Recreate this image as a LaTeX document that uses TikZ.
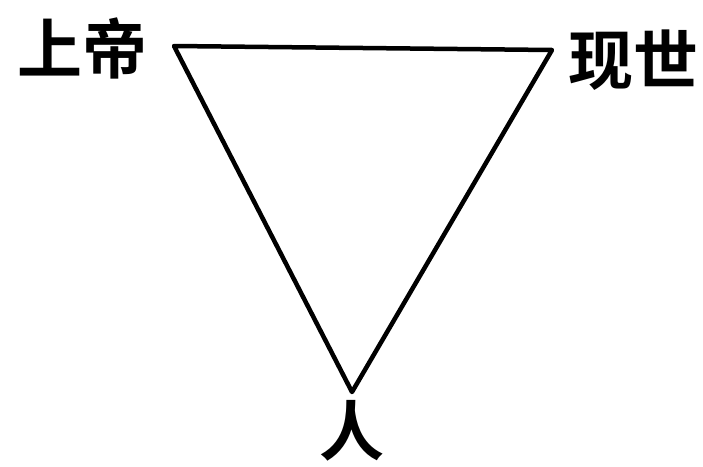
\documentclass[tikz,border=0pt]{standalone}
\usepackage{fontspec}
\newfontfamily\cjk{Noto Sans CJK SC Bold}
\begin{document}
\begin{tikzpicture}[x=1pt,y=-1pt,
  lbl/.style={font=\cjk\fontsize{65}{65}\selectfont, inner sep=0pt},
  edge/.style={line width=4.5pt, line join=round, line cap=round}]
\useasboundingbox (0,0) rectangle (703,466);
\coordinate (g) at (174,46);
\coordinate (w) at (552,50);
\coordinate (r) at (352,392);
\draw[edge] (g) -- (w) -- (r) -- cycle;
\node[lbl] (lg) at (82,48) {上帝};
\node[lbl] (lw) at (633,60) {现世};
\node[lbl] (lr) at (352,431) {人};
\end{tikzpicture}
\end{document}
